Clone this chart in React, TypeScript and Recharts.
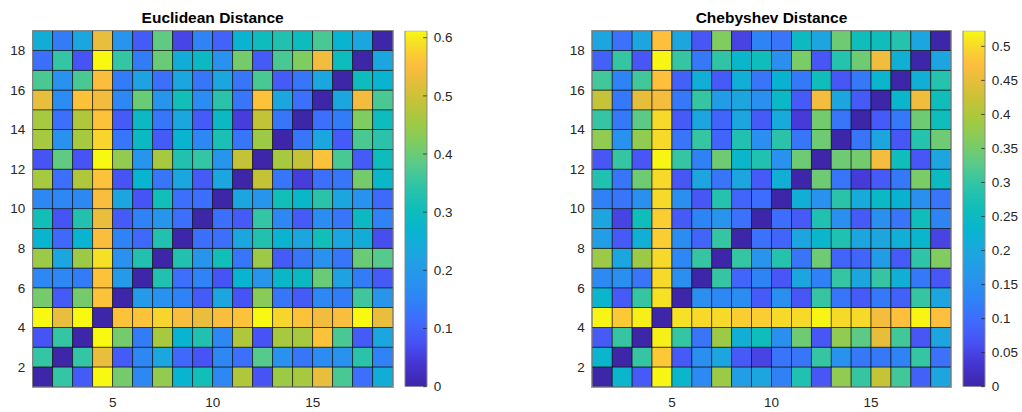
import React from 'react'
import { Bar, BarChart, Scatter, ScatterChart, XAxis, YAxis } from 'recharts'

// Distance matrices as drawn by pcolor: row 1 is the bottom row, column 1 the left column
const euclideanRows = [
  [0, 0.35, 0.09, 0.61, 0.41, 0.16, 0.44, 0.27, 0.31, 0.16, 0.47, 0.08, 0.45, 0.46, 0.53, 0.37, 0.12, 0.25],
  [0.35, 0, 0.35, 0.53, 0.09, 0.16, 0.23, 0.11, 0.08, 0.16, 0.12, 0.38, 0.18, 0.13, 0.17, 0.18, 0.34, 0.15],
  [0.08, 0.35, 0, 0.61, 0.41, 0.14, 0.46, 0.27, 0.33, 0.16, 0.47, 0.08, 0.46, 0.46, 0.56, 0.37, 0.09, 0.23],
  [0.61, 0.53, 0.61, 0, 0.56, 0.56, 0.58, 0.55, 0.53, 0.55, 0.56, 0.61, 0.58, 0.56, 0.54, 0.55, 0.61, 0.53],
  [0.41, 0.09, 0.41, 0.56, 0, 0.2, 0.18, 0.15, 0.09, 0.23, 0.08, 0.43, 0.13, 0.09, 0.16, 0.14, 0.36, 0.19],
  [0.16, 0.16, 0.14, 0.56, 0.2, 0, 0.33, 0.12, 0.15, 0.08, 0.27, 0.19, 0.28, 0.29, 0.4, 0.22, 0.14, 0.09],
  [0.45, 0.23, 0.45, 0.59, 0.18, 0.33, 0, 0.33, 0.19, 0.31, 0.13, 0.45, 0.09, 0.13, 0.18, 0.13, 0.4, 0.38],
  [0.27, 0.11, 0.27, 0.55, 0.15, 0.11, 0.33, 0, 0.12, 0.12, 0.23, 0.33, 0.27, 0.23, 0.31, 0.23, 0.25, 0.07],
  [0.31, 0.08, 0.33, 0.53, 0.09, 0.15, 0.19, 0.12, 0, 0.12, 0.09, 0.35, 0.16, 0.09, 0.17, 0.13, 0.29, 0.15],
  [0.16, 0.16, 0.16, 0.55, 0.23, 0.08, 0.31, 0.12, 0.12, 0, 0.23, 0.19, 0.31, 0.28, 0.34, 0.23, 0.18, 0.11],
  [0.46, 0.12, 0.47, 0.56, 0.08, 0.27, 0.13, 0.23, 0.09, 0.23, 0, 0.49, 0.13, 0.05, 0.12, 0.13, 0.41, 0.28],
  [0.08, 0.39, 0.08, 0.61, 0.44, 0.19, 0.46, 0.33, 0.35, 0.19, 0.49, 0, 0.46, 0.49, 0.56, 0.37, 0.09, 0.3],
  [0.46, 0.18, 0.46, 0.58, 0.13, 0.29, 0.09, 0.27, 0.16, 0.32, 0.13, 0.45, 0, 0.13, 0.23, 0.09, 0.37, 0.34],
  [0.46, 0.12, 0.47, 0.56, 0.09, 0.29, 0.13, 0.23, 0.09, 0.29, 0.05, 0.49, 0.13, 0, 0.12, 0.14, 0.42, 0.3],
  [0.53, 0.17, 0.56, 0.54, 0.16, 0.4, 0.19, 0.31, 0.17, 0.34, 0.13, 0.56, 0.23, 0.12, 0, 0.23, 0.54, 0.37],
  [0.37, 0.18, 0.37, 0.55, 0.14, 0.22, 0.12, 0.23, 0.13, 0.23, 0.13, 0.37, 0.09, 0.13, 0.23, 0, 0.3, 0.27],
  [0.12, 0.35, 0.08, 0.61, 0.35, 0.14, 0.4, 0.25, 0.29, 0.18, 0.41, 0.09, 0.37, 0.42, 0.54, 0.3, 0, 0.23],
  [0.25, 0.14, 0.23, 0.53, 0.19, 0.09, 0.39, 0.06, 0.15, 0.1, 0.27, 0.3, 0.33, 0.3, 0.37, 0.27, 0.23, 0],
]

const chebyshevRows = [
  [0, 0.235, 0.075, 0.518, 0.235, 0.14, 0.385, 0.18, 0.195, 0.125, 0.28, 0.07, 0.375, 0.3, 0.42, 0.31, 0.085, 0.195],
  [0.235, 0, 0.3, 0.485, 0.075, 0.15, 0.195, 0.075, 0.05, 0.11, 0.11, 0.3, 0.155, 0.115, 0.115, 0.13, 0.3, 0.105],
  [0.075, 0.3, 0, 0.515, 0.3, 0.11, 0.385, 0.215, 0.26, 0.15, 0.345, 0.07, 0.375, 0.33, 0.45, 0.31, 0.07, 0.195],
  [0.518, 0.485, 0.515, 0, 0.505, 0.5, 0.5, 0.49, 0.49, 0.5, 0.5, 0.518, 0.5, 0.5, 0.465, 0.475, 0.518, 0.475],
  [0.235, 0.075, 0.3, 0.505, 0, 0.15, 0.135, 0.145, 0.075, 0.15, 0.07, 0.3, 0.11, 0.075, 0.115, 0.085, 0.3, 0.195],
  [0.14, 0.15, 0.11, 0.5, 0.15, 0, 0.3, 0.09, 0.13, 0.07, 0.195, 0.125, 0.3, 0.195, 0.3, 0.215, 0.115, 0.07],
  [0.385, 0.195, 0.385, 0.5, 0.135, 0.3, 0, 0.3, 0.16, 0.285, 0.11, 0.345, 0.09, 0.09, 0.175, 0.075, 0.295, 0.36],
  [0.18, 0.075, 0.215, 0.49, 0.145, 0.09, 0.3, 0, 0.105, 0.09, 0.195, 0.235, 0.28, 0.195, 0.195, 0.215, 0.235, 0.05],
  [0.195, 0.05, 0.26, 0.49, 0.075, 0.13, 0.16, 0.105, 0, 0.1, 0.075, 0.28, 0.15, 0.075, 0.15, 0.11, 0.26, 0.13],
  [0.125, 0.11, 0.15, 0.5, 0.15, 0.07, 0.285, 0.09, 0.1, 0, 0.215, 0.155, 0.29, 0.205, 0.245, 0.225, 0.15, 0.11],
  [0.28, 0.11, 0.345, 0.5, 0.07, 0.195, 0.11, 0.195, 0.075, 0.215, 0, 0.345, 0.11, 0.04, 0.075, 0.115, 0.355, 0.25],
  [0.07, 0.3, 0.07, 0.518, 0.3, 0.125, 0.345, 0.235, 0.28, 0.155, 0.345, 0, 0.345, 0.35, 0.465, 0.26, 0.07, 0.195],
  [0.375, 0.155, 0.375, 0.5, 0.11, 0.3, 0.09, 0.28, 0.15, 0.29, 0.11, 0.345, 0, 0.11, 0.195, 0.07, 0.285, 0.345],
  [0.3, 0.115, 0.33, 0.5, 0.075, 0.195, 0.09, 0.195, 0.075, 0.205, 0.04, 0.35, 0.11, 0, 0.075, 0.115, 0.345, 0.26],
  [0.42, 0.115, 0.45, 0.465, 0.115, 0.3, 0.175, 0.195, 0.15, 0.245, 0.075, 0.465, 0.195, 0.075, 0, 0.235, 0.46, 0.26],
  [0.31, 0.13, 0.31, 0.475, 0.085, 0.215, 0.075, 0.215, 0.11, 0.225, 0.115, 0.26, 0.07, 0.115, 0.235, 0, 0.215, 0.285],
  [0.085, 0.3, 0.07, 0.518, 0.3, 0.115, 0.295, 0.235, 0.26, 0.15, 0.355, 0.07, 0.285, 0.345, 0.46, 0.215, 0, 0.195],
  [0.195, 0.105, 0.195, 0.475, 0.195, 0.07, 0.36, 0.05, 0.13, 0.11, 0.25, 0.195, 0.345, 0.26, 0.26, 0.285, 0.195, 0],
]

const xTicks = [5, 10, 15]
const yTicks = [2, 4, 6, 8, 10, 12, 14, 16, 18]
const euclideanBarTicks = [0, 0.1, 0.2, 0.3, 0.4, 0.5, 0.6]
const chebyshevBarTicks = [0, 0.05, 0.1, 0.15, 0.2, 0.25, 0.3, 0.35, 0.4, 0.45, 0.5]
const euclideanMax = 0.612
const chebyshevMax = 0.523

const FONT = '"Liberation Sans", Arial, Helvetica, sans-serif'
const INK = '#262626'
const CHART_H = 412
const PLOT_TOP = 30.7
const PLOT_BOTTOM = 386.7

// parula colormap anchors: [t, r, g, b]
const PARULA = [
  [0.0, 62, 38, 168],
  [0.063, 69, 52, 209],
  [0.125, 72, 82, 244],
  [0.188, 62, 108, 252],
  [0.25, 46, 133, 245],
  [0.313, 39, 150, 235],
  [0.375, 28, 166, 223],
  [0.438, 8, 180, 208],
  [0.5, 15, 189, 186],
  [0.563, 46, 196, 168],
  [0.625, 88, 202, 138],
  [0.688, 128, 204, 96],
  [0.75, 165, 201, 63],
  [0.813, 203, 194, 54],
  [0.875, 238, 189, 62],
  [0.906, 253, 190, 61],
  [0.938, 250, 206, 50],
  [0.969, 245, 227, 35],
  [1.0, 249, 251, 14],
]

function parula(t: number) {
  const u = Math.max(0, Math.min(1, t))
  for (let i = 1; i < PARULA.length; i++) {
    const a = PARULA[i - 1]
    const b = PARULA[i]
    if (u <= b[0]) {
      const k = (u - a[0]) / (b[0] - a[0])
      const ch = (j: number) => Math.round(a[j] + (b[j] - a[j]) * k)
      return `rgb(${ch(1)},${ch(2)},${ch(3)})`
    }
  }
  return 'rgb(249,251,14)'
}

const fmt = (v: number) => String(Math.round(v * 100) / 100)

interface HeatmapProps {
  title: string
  rows: number[][]
  max: number
  barTicks: number[]
  left: number
  width: number
  plotLeft: number
  plotRight: number
  barLeft: number
  barRight: number
  gradId: string
}

function Heatmap({
  title,
  rows,
  max,
  barTicks,
  left,
  width,
  plotLeft,
  plotRight,
  barLeft,
  barRight,
  gradId,
}: HeatmapProps) {
  const plotW = plotRight - plotLeft
  const plotH = PLOT_BOTTOM - PLOT_TOP
  const cellW = plotW / rows[0].length
  const cellH = plotH / rows.length

  const cells = rows.flatMap((row, r) =>
    row.map((v, c) => ({ x: c + 1.5, y: r + 1.5, v }))
  )

  const cellShape = (props: any) => {
    const { cx, cy, payload } = props
    if (cx == null || cy == null) return <g />
    return (
      <rect
        x={cx - cellW / 2}
        y={cy - cellH / 2}
        width={cellW}
        height={cellH}
        fill={parula(payload.v / max)}
        stroke="#000"
        strokeOpacity={0.8}
        strokeWidth={0.7}
      />
    )
  }

  const tickStyle = { fill: INK, fontSize: 13.5, fontFamily: FONT }

  const barTick = (props: any) => {
    const { x, y, payload } = props
    return (
      <g>
        <line x1={x - 10.5} x2={x - 7} y1={y} y2={y} stroke={INK} strokeWidth={0.8} />
        <text x={x} y={y} dy="0.35em" fill={INK} fontSize={13.5} fontFamily={FONT}>
          {fmt(payload.value)}
        </text>
      </g>
    )
  }

  const cbLeft = barLeft - 2
  const cbWidth = barRight - cbLeft + 52

  return (
    <>
      <div
        style={{
          position: 'absolute',
          left: plotLeft,
          top: 10,
          width: plotW,
          textAlign: 'center',
          fontFamily: FONT,
          fontWeight: 'bold',
          fontSize: 15.5,
          lineHeight: '16px',
          color: '#000',
        }}
      >
        {title}
      </div>

      <div style={{ position: 'absolute', left, top: 0 }}>
        <ScatterChart
          width={width}
          height={CHART_H}
          margin={{ top: PLOT_TOP, right: left + width - plotRight, bottom: 0, left: 0 }}
        >
          <XAxis
            type="number"
            dataKey="x"
            domain={[1, 19]}
            ticks={xTicks}
            interval={0}
            height={CHART_H - PLOT_BOTTOM}
            axisLine={false}
            tickLine={false}
            tickSize={0}
            tickMargin={10.4}
            tick={tickStyle}
            allowDataOverflow
          />
          <YAxis
            type="number"
            dataKey="y"
            domain={[1, 19]}
            ticks={yTicks}
            interval={0}
            width={plotLeft - left}
            axisLine={false}
            tickLine={false}
            tickSize={0}
            tickMargin={7.5}
            tick={tickStyle}
            allowDataOverflow
          />
          <Scatter data={cells} shape={cellShape} isAnimationActive={false} />
        </ScatterChart>
      </div>

      {/* axes box */}
      <div
        style={{
          position: 'absolute',
          left: plotLeft - 1,
          top: PLOT_TOP - 1,
          width: plotW,
          height: plotH,
          border: '1px solid rgba(38,38,38,0.45)',
          pointerEvents: 'none',
        }}
      />

      {/* colorbar */}
      <div style={{ position: 'absolute', left: cbLeft, top: 0 }}>
        <BarChart
          width={cbWidth}
          height={CHART_H}
          data={[{ k: 'cb', v: max }]}
          margin={{ top: PLOT_TOP, right: 0, bottom: CHART_H - PLOT_BOTTOM, left: 2 }}
          barCategoryGap={0}
        >
          <defs>
            <linearGradient id={gradId} x1="0" y1="1" x2="0" y2="0">
              {PARULA.map((p) => (
                <stop key={p[0]} offset={p[0]} stopColor={`rgb(${p[1]},${p[2]},${p[3]})`} />
              ))}
            </linearGradient>
          </defs>
          <XAxis dataKey="k" hide />
          <YAxis
            orientation="right"
            type="number"
            domain={[0, max]}
            ticks={barTicks}
            interval={0}
            width={cbWidth - 2 - (barRight - barLeft)}
            axisLine={false}
            tickLine={false}
            tickSize={0}
            tickMargin={7}
            tick={barTick}
            allowDataOverflow
          />
          <Bar
            dataKey="v"
            fill={`url(#${gradId})`}
            stroke="#8a8a8a"
            strokeWidth={1}
            isAnimationActive={false}
          />
        </BarChart>
      </div>
    </>
  )
}

export default function App() {
  return (
    <div
      style={{
        position: 'absolute',
        left: 0,
        top: 0,
        width: 1022,
        height: 412,
        background: '#fff',
        overflow: 'hidden',
      }}
    >
      <Heatmap
        title="Euclidean Distance"
        rows={euclideanRows}
        max={euclideanMax}
        barTicks={euclideanBarTicks}
        left={0}
        width={400}
        plotLeft={32.7}
        plotRight={392.7}
        barLeft={405.3}
        barRight={427}
        gradId="parulaLeft"
      />
      <Heatmap
        title="Chebyshev Distance"
        rows={chebyshevRows}
        max={chebyshevMax}
        barTicks={chebyshevBarTicks}
        left={540}
        width={420}
        plotLeft={592.3}
        plotRight={950.7}
        barLeft={963.3}
        barRight={985}
        gradId="parulaRight"
      />
    </div>
  )
}
